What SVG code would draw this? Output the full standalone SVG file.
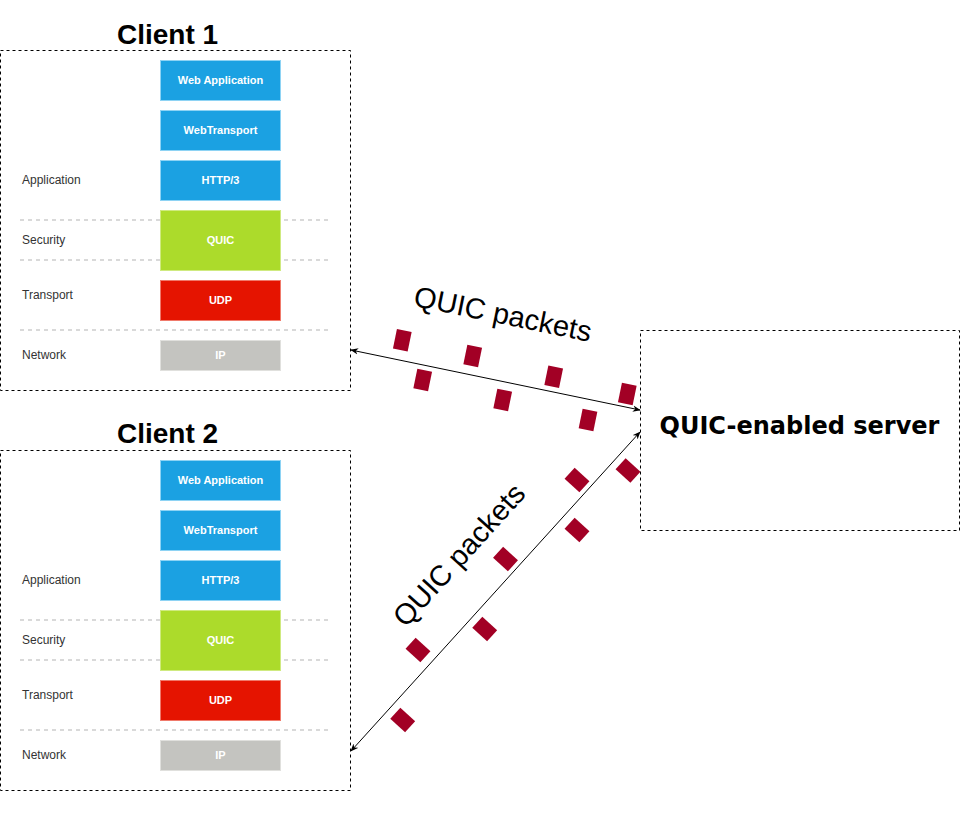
<svg xmlns="http://www.w3.org/2000/svg" width="961" height="825" viewBox="0 0 961 825">
<style>
.box{fill:#fff;stroke:#000;stroke-width:1;stroke-dasharray:3,3}
.sep{stroke:#b3b3b3;stroke-width:1;stroke-dasharray:4,4}
.blue{fill:#1ba1e2;stroke:#8ed3f4}
.green{fill:#acdb2b;stroke:#cfea80}
.red{fill:#e51400;stroke:#f07a6b}
.gray{fill:#c4c4c0;stroke:#e0e0dd}
.bt{font-family:"Liberation Sans",Arial,sans-serif;font-size:11px;font-weight:bold;fill:#fff;text-anchor:middle}
.lt{font-family:"Liberation Sans",Arial,sans-serif;font-size:12px;fill:#333}
.title{font-family:"Liberation Sans",Arial,sans-serif;font-size:28px;font-weight:bold;fill:#000;text-anchor:middle}
.srv{font-family:"DejaVu Sans",sans-serif;font-size:24px;font-weight:bold;fill:#000;text-anchor:middle}
.pk{font-family:"Liberation Sans",Arial,sans-serif;font-size:29px;fill:#000;text-anchor:middle}
.pkt{fill:#a20025}
.conn{stroke:#000;stroke-width:1;fill:none}
</style>
<defs>
<marker id="arr" viewBox="0 0 10 8" refX="9" refY="4" markerWidth="8" markerHeight="7" orient="auto-start-reverse" markerUnits="userSpaceOnUse">
<path d="M0,0 L10,4 L0,8 L3,4 z" fill="#000"/>
</marker>
<g id="stack">
<line class="sep" x1="20" y1="220" x2="330" y2="220"/>
<line class="sep" x1="20" y1="260" x2="330" y2="260"/>
<line class="sep" x1="20" y1="330" x2="330" y2="330"/>
<rect class="blue" x="160.5" y="60.5" width="120" height="40"/>
<text class="bt" x="220.5" y="83.5">Web Application</text>
<rect class="blue" x="160.5" y="110.5" width="120" height="40"/>
<text class="bt" x="220.5" y="133.5">WebTransport</text>
<rect class="blue" x="160.5" y="160.5" width="120" height="40"/>
<text class="bt" x="220.5" y="183.5">HTTP/3</text>
<rect class="green" x="160.5" y="210.5" width="120" height="60"/>
<text class="bt" x="220.5" y="243.5">QUIC</text>
<rect class="red" x="160.5" y="280.5" width="120" height="40"/>
<text class="bt" x="220.5" y="303.5">UDP</text>
<rect class="gray" x="160.5" y="340.5" width="120" height="30"/>
<text class="bt" x="220.5" y="358.5">IP</text>
<text class="lt" x="22" y="184">Application</text>
<text class="lt" x="22" y="244">Security</text>
<text class="lt" x="22" y="299">Transport</text>
<text class="lt" x="22" y="359">Network</text>
</g>
<rect id="p1" class="pkt" x="-7.5" y="-10" width="15" height="20"/>
</defs>

<g id="client1">
<rect class="box" x="0.5" y="50.5" width="350" height="340"/>
<text class="title" x="167.5" y="44">Client 1</text>
<use href="#stack"/>
</g>

<g id="client2">
<rect class="box" x="0.5" y="450.5" width="350" height="340"/>
<text class="title" x="167.5" y="443">Client 2</text>
<use href="#stack" transform="translate(0,400)"/>
</g>

<g id="server">
<rect class="box" x="640.5" y="330.5" width="319" height="200"/>
<text class="srv" x="799.5" y="434">QUIC-enabled server</text>
</g>

<g id="packets1">
<use href="#p1" transform="translate(402.3,340.3) rotate(11.5)"/>
<use href="#p1" transform="translate(422.7,380) rotate(11.5)"/>
<use href="#p1" transform="translate(472.7,356) rotate(11.5)"/>
<use href="#p1" transform="translate(502.7,400) rotate(11.5)"/>
<use href="#p1" transform="translate(553.7,376.7) rotate(11.5)"/>
<use href="#p1" transform="translate(588,420) rotate(11.5)"/>
<use href="#p1" transform="translate(627.3,394) rotate(11.5)"/>
</g>
<g id="packets2">
<use href="#p1" transform="translate(577,480) rotate(-47.8)"/>
<use href="#p1" transform="translate(628,470.5) rotate(-47.8)"/>
<use href="#p1" transform="translate(577,530) rotate(-47.8)"/>
<use href="#p1" transform="translate(505.5,559) rotate(-47.8)"/>
<use href="#p1" transform="translate(484.7,629) rotate(-47.8)"/>
<use href="#p1" transform="translate(418,650) rotate(-47.8)"/>
<use href="#p1" transform="translate(402.7,720) rotate(-47.8)"/>
</g>

<g id="connectors">
<line class="conn" x1="351" y1="350" x2="640" y2="410" marker-start="url(#arr)" marker-end="url(#arr)"/>
<line class="conn" x1="640" y1="432" x2="351" y2="751" marker-start="url(#arr)" marker-end="url(#arr)"/>
<text class="pk" transform="translate(503,314) rotate(11.5)" x="0" y="10">QUIC packets</text>
<text class="pk" transform="translate(459,555) rotate(-47.8)" x="0" y="10">QUIC packets</text>
</g>
</svg>
